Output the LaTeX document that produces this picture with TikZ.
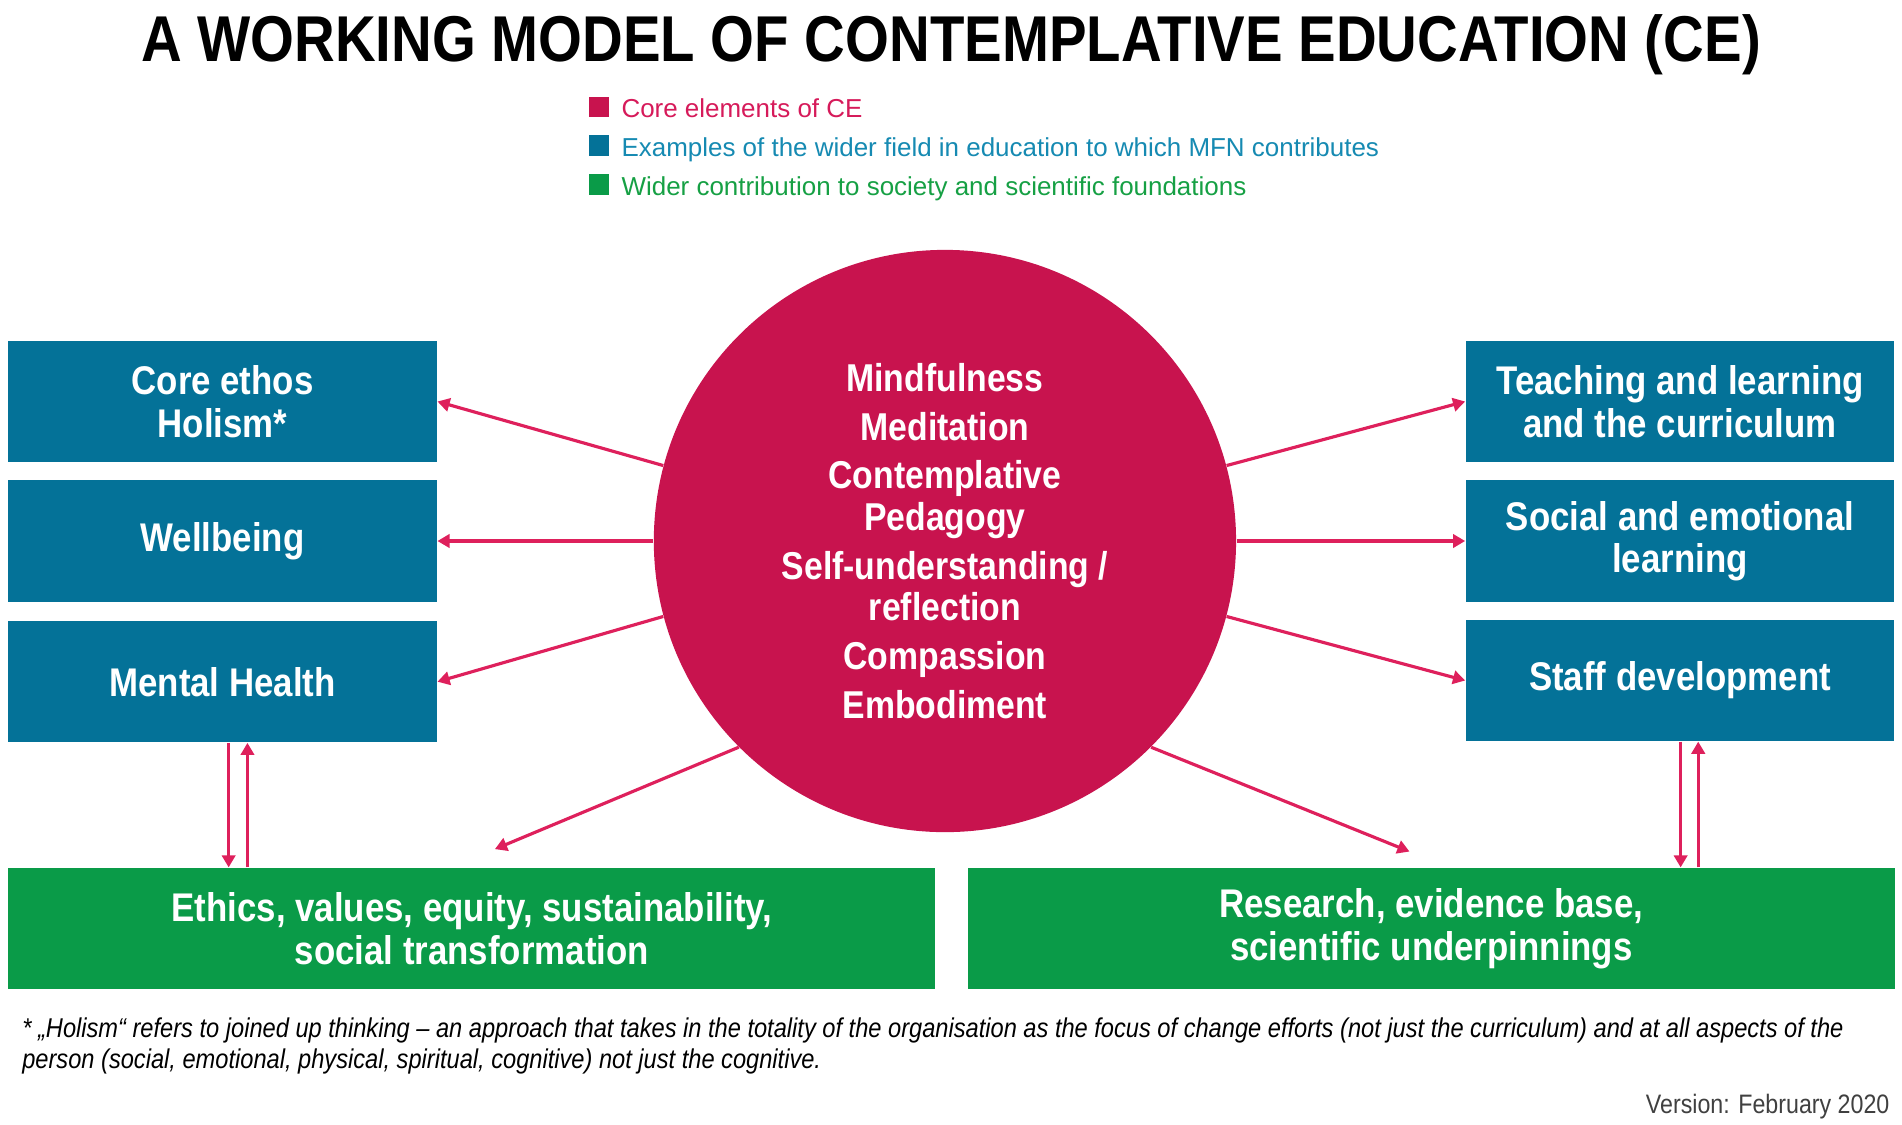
\documentclass[tikz,border=0pt]{standalone}
\usepackage{fontspec}
\setmainfont{Liberation Sans}
\newfontfamily\condfont[FakeStretch=0.87]{Liberation Sans}
\usepackage{xcolor}
\usepackage{tikz}
\usetikzlibrary{arrows.meta}
\definecolor{cepink}{RGB}{200,19,78}
\definecolor{arrowpink}{RGB}{222,32,92}
\definecolor{mfnblue}{RGB}{4,114,152}
\definecolor{socgreen}{RGB}{10,155,72}
\definecolor{legpink}{RGB}{214,26,90}
\definecolor{legblue}{RGB}{22,138,178}
\definecolor{leggreen}{RGB}{22,160,68}

\begin{document}
\begin{tikzpicture}[x=0.5pt,y=0.5pt,yscale=-1,
  fieldbox/.style={fill=mfnblue, text=white, minimum width=176.75pt, minimum height=50pt, inner sep=0pt, align=center, font=\condfont\bfseries\fontsize{16.5}{17.5}\selectfont},
  societybox/.style={fieldbox, fill=socgreen, minimum width=382pt},
  corecircle/.style={circle, fill=cepink, text=white, minimum size=240pt, inner sep=0pt, align=center, font=\condfont\bfseries\fontsize{16}{17.25}\selectfont},
  link/.style={draw=arrowpink, line width=1.3pt, -{Triangle[length=5pt,width=5.5pt]}},
  keysq/.style={fill=#1, minimum size=8.5pt, inner sep=0pt, anchor=south west},
  keytext/.style={anchor=base west, inner sep=0pt, font=\fontsize{10.7}{12}\selectfont},
]
  \useasboundingbox (0,0) rectangle (1568,927.4);

  % Text Node
  \node [anchor=base, inner sep=0pt, font=\condfont\bfseries\fontsize{26.7}{30}\selectfont] (title) at (784,51) {A WORKING MODEL OF CONTEMPLATIVE EDUCATION (CE)};

  %Legend
  \node [keysq=cepink] (keyce) at (485,97) {};
  \node [keytext, text=legpink] (keycetext) at (512,97) {Core elements of CE};
  \node [keysq=mfnblue] (keyfield) at (485,129) {};
  \node [keytext, text=legblue] (keyfieldtext) at (512,129) {Examples of the wider field in education to which MFN contributes};
  \node [keysq=socgreen] (keysoc) at (485,161) {};
  \node [keytext, text=leggreen] (keysoctext) at (512,161) {Wider contribution to society and scientific foundations};

  %Shape: Circle
  \node [corecircle] (ce) at (779,446) {Mindfulness\\[2.75pt] Meditation\\[2.75pt] Contemplative\\ Pedagogy\\[2.75pt] Self-understanding /\\ reflection\\[2.75pt] Compassion\\[2.75pt] Embodiment};

  %Shape: Rectangles
  \node [fieldbox] (ethos) at (183.5,331) {Core ethos\\ Holism*};
  \node [fieldbox] (well) at (183.5,446) {Wellbeing};
  \node [fieldbox] (mental) at (183.5,562) {Mental Health};
  \node [fieldbox] (teach) at (1385,331) {Teaching and learning\\ and the curriculum};
  \node [fieldbox] (sel) at (1385,446) {Social and emotional\\ learning};
  \node [fieldbox] (staff) at (1385,561) {Staff development};
  \node [societybox] (ethics) at (389,765.5) {Ethics, values, equity, sustainability,\\ social transformation};
  \node [societybox] (research) at (1180,765.5) {Research, evidence base,\\ scientific underpinnings};

  %Straight Lines
  \draw [link] (ce.165) -- (ethos.east);
  \draw [link] (ce.180) -- (well.east);
  \draw [link] (ce.195) -- (mental.east);
  \draw [link] (ce.15) -- (teach.west);
  \draw [link] (ce.0) -- (sel.west);
  \draw [link] (ce.-15) -- (staff.west);
  \coordinate (ethicsin) at (408,700);
  \coordinate (researchin) at (1162,702);
  \draw [link] (ce.225) -- (ethicsin);
  \draw [link] (ce.-45) -- (researchin);

  %Straight Lines
  \coordinate (mentaldown) at ([xshift=2.5pt]mental.south);
  \coordinate (mentalup) at ([xshift=10.25pt]mental.south);
  \draw [link] (mentaldown) -- (mentaldown |- ethics.north);
  \draw [link] (mentalup |- ethics.north) -- (mentalup);
  \coordinate (staffdown) at ([xshift=0.25pt]staff.south);
  \coordinate (staffup) at ([xshift=7.5pt]staff.south);
  \draw [link] (staffdown) -- (staffdown |- research.north);
  \draw [link] (staffup |- research.north) -- (staffup);

  % Text Node
  \node [anchor=north west, inner sep=0pt, align=left, font=\condfont\itshape\fontsize{11.2}{12.5}\selectfont] (note) at (18,839) {* „Holism“ refers to joined up thinking – an approach that takes in the totality of the organisation as the focus of change efforts (not just the curriculum) and at all aspects of the\\ person (social, emotional, physical, spiritual, cognitive) not just the cognitive.};
  % Text Node
  \node [anchor=base east, inner sep=0pt, text=black!75, font=\condfont\fontsize{11}{13}\selectfont] (version) at (1558,918) {Version: February 2020};
\end{tikzpicture}
\end{document}
